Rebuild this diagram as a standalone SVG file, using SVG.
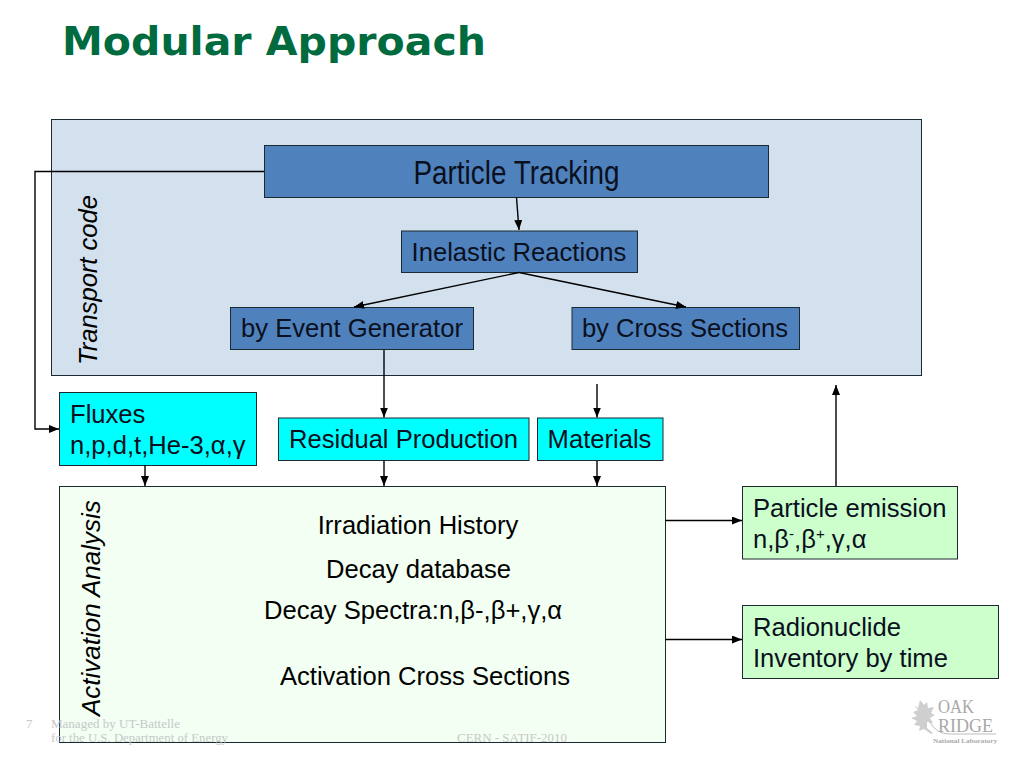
<svg xmlns="http://www.w3.org/2000/svg" width="1024" height="768" viewBox="0 0 1024 768">
<style>
text{font-family:"Liberation Sans",Arial,sans-serif;fill:#000}
.box{stroke:#1a2a30;stroke-width:1}
.blue{fill:#4f81bd}.cyan{fill:#00ffff}.green{fill:#ccffcc}
.t{font-size:25.6px;fill:#0a1020}
.b{font-size:25.6px}
.n{text-anchor:middle}
.c{fill:none;stroke:#000;stroke-width:1.4;marker-end:url(#a)}
.f{font-family:"Liberation Serif",serif;font-size:13px;fill:#c8c8c8}
.logo{font-family:"Liberation Serif",serif;fill:#a8a8a8}
</style>
<defs><marker id="a" markerWidth="12" markerHeight="10" refX="10" refY="4" orient="auto" markerUnits="userSpaceOnUse"><path d="M0,0L10,4L0,8z" fill="#000"/></marker></defs>
<rect width="1024" height="768" fill="#fff"/>
<text id="title" x="62" y="55" font-size="39" font-weight="bold" textLength="424" lengthAdjust="spacingAndGlyphs" style="font-family:'DejaVu Sans',Verdana,sans-serif;fill:#006b3f">Modular Approach</text>
<g id="transport"><rect class="box" x="51.500" y="119.500" width="870" height="256" fill="#d3e0ee"/><text transform="translate(97,365) rotate(-90)" font-size="25" font-style="italic" textLength="170" lengthAdjust="spacingAndGlyphs">Transport code</text></g>
<g id="activation"><rect class="box" x="59.500" y="486.500" width="606" height="256" fill="#f2fff2"/><text transform="translate(100,716) rotate(-90)" font-size="26" font-style="italic">Activation Analysis</text>
<text class="n b" x="418" y="534">Irradiation History</text><text class="n b" x="418.500" y="578">Decay database</text><text class="b" x="264" y="619">Decay Spectra:n,β-,β+,γ,α</text><text class="n b" x="425" y="685">Activation Cross Sections</text></g>
<g id="tracking"><rect class="box blue" x="264.500" y="145.500" width="504" height="52"/><text class="n" x="516.500" y="184" font-size="34" textLength="206" lengthAdjust="spacingAndGlyphs" style="fill:#0a1020">Particle Tracking</text></g>
<g id="inelastic"><rect class="box blue" x="401.500" y="231" width="236" height="41.500"/><text class="n t" x="519" y="261">Inelastic Reactions</text></g>
<g id="event"><rect class="box blue" x="230.500" y="307.500" width="243" height="42"/><text class="n t" x="352" y="337">by Event Generator</text></g>
<g id="cross"><rect class="box blue" x="572" y="307.500" width="227.500" height="42"/><text class="n t" x="685" y="337">by Cross Sections</text></g>
<g id="fluxes"><rect class="box cyan" x="59.500" y="392.500" width="197" height="73"/><text class="t" x="70" y="423">Fluxes</text><text class="t" x="70" y="454">n,p,d,t,He-3,α,γ</text></g>
<g id="residual"><rect class="box cyan" x="278.500" y="418" width="250.500" height="42.500"/><text class="n t" x="403.500" y="448">Residual Production</text></g>
<g id="materials"><rect class="box cyan" x="537.500" y="418" width="125.500" height="42.500"/><text class="n t" x="599.500" y="448">Materials</text></g>
<g id="emission"><rect class="box green" x="742.500" y="486.500" width="215" height="72.500"/><text class="t" x="753" y="517">Particle emission</text><text class="t" x="753" y="548">n,β<tspan font-size="15" dy="-9">-</tspan><tspan dy="9">,β</tspan><tspan font-size="15" dy="-9">+</tspan><tspan dy="9">,γ,α</tspan></text></g>
<g id="inventory"><rect class="box green" x="742.500" y="605.500" width="256" height="73"/><text class="t" x="753" y="636">Radionuclide</text><text class="t" x="753" y="667">Inventory by time</text></g>
<g id="connectors">
<path class="c" d="M264,171.500H35V429H59"/>
<path class="c" d="M516.500,197.500L519,230"/>
<path class="c" d="M519,272.500L354,307"/>
<path class="c" d="M519,272.500L686,307"/>
<path class="c" d="M384,350V417.500"/>
<path class="c" d="M597,384V417.500"/>
<path class="c" d="M145,465V486"/>
<path class="c" d="M384,461V486"/>
<path class="c" d="M597,461V486"/>
<path class="c" d="M665.500,520.500H742"/>
<path class="c" d="M665.500,639.500H742"/>
<path class="c" d="M836,486V385"/>
</g>
<g id="footer">
<text class="f" x="26" y="728">7</text><text class="f" x="51" y="728" textLength="129" lengthAdjust="spacingAndGlyphs">Managed by UT-Battelle</text><text class="f" x="51" y="742" textLength="177" lengthAdjust="spacingAndGlyphs">for the U.S. Department of Energy</text><text class="f" x="457" y="742" textLength="110" lengthAdjust="spacingAndGlyphs">CERN - SATIF-2010</text>
</g>
<g id="logo">
<path d="M914,705l4,3 2-8 4,5 3-3 1,6 6-1-3,6 4,2-5,3 3,5-6-1 0,6 6,5-2,1-7-5-5,2 1-5-6-1 3-4-6-3 6-2-4-4 5-2z" fill="#cfcfcf"/>
<path d="M930,722Q936,734 950,734H996" fill="none" stroke="#bdbdbd" stroke-width="1"/>
<text class="logo" x="938" y="713" font-size="18" textLength="36" lengthAdjust="spacingAndGlyphs">OAK</text>
<text class="logo" x="938" y="732" font-size="18" textLength="55" lengthAdjust="spacingAndGlyphs">RIDGE</text>
<text class="logo" x="933" y="743" font-size="7" font-weight="bold" textLength="64" lengthAdjust="spacingAndGlyphs">National Laboratory</text>
</g>
</svg>
